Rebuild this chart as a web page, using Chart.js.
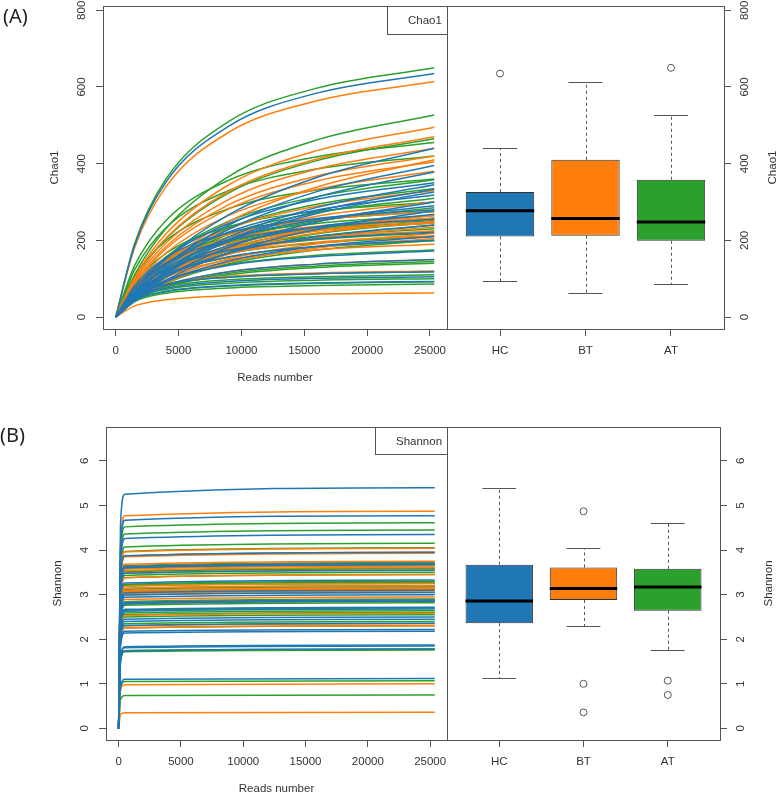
<!DOCTYPE html>
<html>
<head>
<meta charset="utf-8">
<title>Chao1 and Shannon rarefaction curves</title>
<script src="https://cdn.jsdelivr.net/npm/chart.js@4.4.1/dist/chart.umd.min.js"></script>
<style>
  body { margin: 0; background: #fff; }
  #wrap { position: relative; width: 778px; height: 794px; }
  #wrap canvas { position: absolute; left: 0; top: 0; }
</style>
</head>
<body>
<div id="wrap">
  <canvas id="chaoCurves" width="778" height="794"></canvas>
  <canvas id="chaoBox" width="778" height="794"></canvas>
  <canvas id="shannonCurves" width="778" height="794"></canvas>
  <canvas id="shannonBox" width="778" height="794"></canvas>
</div>
<script>
const groups = ['HC', 'BT', 'AT'];
const groupColors = ['#1f77b4', '#ff7f0e', '#2ca02c'];

const chaoReads = [0, 1500, 4000, 9000, 16000, 25340];
const shannonReads = [0, 150, 500, 25370];

// Chao1 curves, one row per sample: values at chaoReads[1..]
const chaoHC = [
  [43, 67, 82, 89, 93], [49, 75, 93, 101, 105], [55, 85, 104, 113, 118],
  [44, 83, 118, 138, 150], [51, 95, 135, 158, 172], [59, 111, 157, 184, 200],
  [44, 92, 146, 184, 210], [65, 123, 174, 204, 222], [50, 105, 167, 210, 240],
  [75, 141, 200, 234, 255], [56, 118, 187, 235, 268], [42, 96, 168, 229, 277],
  [82, 155, 220, 257, 280], [60, 127, 202, 254, 290], [45, 104, 182, 248, 300],
  [66, 140, 222, 279, 318], [49, 112, 198, 270, 326], [50, 115, 202, 276, 333],
  [52, 119, 209, 286, 345], [73, 154, 244, 307, 350], [57, 130, 229, 313, 378],
  [59, 136, 240, 327, 395], [66, 152, 267, 364, 440], [187, 352, 498, 584, 635]
];
const chaoBT = [
  [29, 45, 56, 60, 63], [55, 86, 106, 115, 120], [44, 83, 118, 138, 150],
  [56, 105, 149, 175, 190], [43, 90, 143, 180, 205], [62, 117, 166, 195, 212],
  [45, 96, 152, 191, 218], [66, 125, 177, 207, 225], [49, 103, 164, 206, 235],
  [72, 136, 192, 225, 245], [52, 110, 174, 219, 250], [75, 141, 200, 234, 255],
  [53, 113, 179, 225, 257], [76, 143, 203, 237, 258], [55, 116, 185, 232, 265],
  [81, 152, 216, 253, 275], [62, 132, 209, 263, 300], [69, 145, 230, 289, 330],
  [79, 167, 265, 333, 380], [84, 178, 282, 355, 405], [62, 141, 249, 339, 410],
  [87, 184, 293, 368, 420], [92, 193, 307, 386, 440], [98, 206, 328, 412, 470],
  [103, 217, 345, 434, 495], [181, 340, 482, 564, 614]
];
const chaoAT = [
  [40, 62, 76, 82, 86], [43, 66, 81, 88, 92], [46, 72, 88, 96, 100],
  [51, 79, 97, 105, 110], [55, 85, 104, 113, 118], [41, 78, 110, 129, 140],
  [43, 80, 114, 133, 145], [51, 97, 137, 161, 175], [59, 110, 156, 183, 199],
  [42, 88, 139, 175, 200], [62, 116, 165, 193, 210], [65, 122, 173, 202, 220],
  [68, 127, 181, 211, 230], [50, 105, 167, 210, 240], [72, 136, 192, 225, 245],
  [73, 137, 195, 228, 248], [52, 109, 173, 217, 248], [74, 140, 198, 232, 252],
  [54, 113, 180, 226, 258], [78, 147, 208, 244, 265], [81, 152, 216, 253, 275],
  [59, 125, 199, 250, 285], [88, 166, 236, 276, 300], [64, 136, 216, 272, 310],
  [70, 147, 233, 294, 335], [74, 157, 250, 314, 358], [106, 199, 283, 331, 360],
  [123, 233, 330, 386, 420], [134, 252, 357, 418, 455], [97, 204, 324, 408, 465],
  [110, 231, 367, 462, 527], [191, 360, 510, 597, 650]
];

// Shannon curves: values at shannonReads[1..]
const shannonHC = [
  [0.95, 1.10, 1.12], [1.51, 1.74, 1.78], [1.57, 1.81, 1.85], [1.59, 1.83, 1.87],
  [1.85, 2.14, 2.18], [1.89, 2.18, 2.22], [2.01, 2.31, 2.36], [2.08, 2.40, 2.45],
  [2.13, 2.45, 2.50], [2.28, 2.63, 2.68], [2.31, 2.67, 2.72], [2.42, 2.79, 2.85],
  [2.45, 2.82, 2.88], [2.55, 2.94, 3.00], [2.59, 2.99, 3.05], [2.64, 3.04, 3.10],
  [2.83, 3.26, 3.33], [3.02, 3.48, 3.55], [3.12, 3.60, 3.67], [3.15, 3.63, 3.70],
  [3.36, 3.87, 3.95], [3.70, 4.26, 4.35], [4.05, 4.67, 4.77], [4.59, 5.25, 5.40]
];
const shannonBT = [
  [0.31, 0.35, 0.36], [0.85, 0.98, 1.00], [1.96, 2.25, 2.30], [2.00, 2.30, 2.35],
  [2.19, 2.53, 2.58], [2.42, 2.79, 2.85], [2.45, 2.82, 2.88], [2.51, 2.89, 2.95],
  [2.59, 2.99, 3.05], [2.62, 3.02, 3.08], [2.64, 3.04, 3.10], [2.65, 3.06, 3.12],
  [2.66, 3.07, 3.13], [2.68, 3.09, 3.15], [2.72, 3.14, 3.20], [2.76, 3.19, 3.25],
  [2.93, 3.38, 3.45], [3.02, 3.48, 3.55], [3.07, 3.54, 3.61], [3.10, 3.58, 3.65],
  [3.15, 3.63, 3.70], [3.19, 3.68, 3.75], [3.34, 3.85, 3.93], [3.36, 3.87, 3.95],
  [3.43, 3.96, 4.04], [4.14, 4.77, 4.87]
];
const shannonAT = [
  [0.64, 0.74, 0.75], [0.91, 1.05, 1.07], [1.50, 1.72, 1.76], [1.51, 1.74, 1.78],
  [1.96, 2.25, 2.30], [2.04, 2.35, 2.40], [2.17, 2.50, 2.55], [2.21, 2.55, 2.60],
  [2.24, 2.59, 2.64], [2.30, 2.65, 2.70], [2.40, 2.76, 2.82], [2.42, 2.79, 2.85],
  [2.45, 2.82, 2.88], [2.47, 2.84, 2.90], [2.64, 3.04, 3.10], [2.68, 3.09, 3.15],
  [2.70, 3.12, 3.18], [2.72, 3.14, 3.20], [2.76, 3.19, 3.25], [2.79, 3.21, 3.28],
  [2.81, 3.23, 3.30], [2.93, 3.38, 3.45], [2.98, 3.43, 3.50], [3.04, 3.51, 3.58],
  [3.06, 3.53, 3.60], [3.10, 3.58, 3.65], [3.13, 3.61, 3.68], [3.16, 3.65, 3.72],
  [3.44, 3.97, 4.05], [3.53, 4.07, 4.15], [3.78, 4.36, 4.45], [3.92, 4.52, 4.61]
];

// boxplot statistics per group (HC, BT, AT)
const chaoLow = [93, 63, 86];
const chaoQ1 = [210, 212, 199];
const chaoMedian = [277, 257, 248];
const chaoQ3 = [326, 410, 358];
const chaoHigh = [440, 614, 527];
const chaoOutliers = [[635], [], [650]];

const shannonLow = [1.12, 2.30, 1.76];
const shannonQ1 = [2.36, 2.88, 2.64];
const shannonMedian = [2.86, 3.14, 3.17];
const shannonQ3 = [3.67, 3.61, 3.58];
const shannonHigh = [5.40, 4.04, 4.61];
const shannonOutliers = [[], [4.87, 1.00, 0.36], [1.07, 0.75]];

// tick labels
const readsTicks = [0, 5000, 10000, 15000, 20000, 25000];
const chaoTicks = [0, 200, 400, 600, 800];
const shannonTicks = [0, 1, 2, 3, 4, 5, 6];
const groupTicks = [1, 2, 3];

const axisGrey = '#555';
const textColor = '#333';
const fontFamily = '"Liberation Sans", Arial, sans-serif';

function fixedTicks(values) {
    return function(scale) {
        scale.ticks = values.map(v => ({ value: v }));
    };
}

function xAxis(min, max, values, labels) {
    return {
        type: 'linear',
        min: min,
        max: max,
        offset: false,
        afterBuildTicks: fixedTicks(values),
        afterFit: s => { s.height = 30; },
        grid: { drawOnChartArea: false, offset: false, tickLength: 7, color: axisGrey },
        border: { color: axisGrey },
        ticks: {
            color: textColor,
            font: { family: fontFamily, size: 11.5 },
            padding: 8,
            maxRotation: 0,
            autoSkip: false,
            callback: labels ? (v => labels[v - 1]) : (v => String(v))
        }
    };
}

function yAxis(side, min, max, values) {
    return {
        type: 'linear',
        position: side,
        min: min,
        max: max,
        afterBuildTicks: fixedTicks(values),
        afterFit: s => { s.width = 30; },
        grid: { drawOnChartArea: false, tickLength: 7, color: axisGrey },
        border: { color: axisGrey },
        ticks: { display: false }
    };
}

function upright(ctx, text, x, y) {
    ctx.save();
    ctx.translate(x, y);
    ctx.rotate(-Math.PI / 2);
    ctx.fillText(text, 0, 0);
    ctx.restore();
}

// R style frame, rotated y labels, titles, legend box and panel letter
const rFrame = {
    id: 'rFrame',
    afterDraw(chart, args, o) {
        const ctx = chart.ctx;
        const a = chart.chartArea;
        const ys = chart.scales.y;
        ctx.save();
        ctx.strokeStyle = axisGrey;
        ctx.lineWidth = 1;
        ctx.strokeRect(a.left + 0.5, a.top + 0.5, a.right - a.left, a.bottom - a.top);

        ctx.fillStyle = textColor;
        ctx.font = '11.5px ' + fontFamily;
        ctx.textAlign = 'center';
        ctx.textBaseline = 'middle';
        const onLeft = ys.position === 'left';
        const edge = onLeft ? a.left : a.right;
        const dir = onLeft ? -1 : 1;
        ys.ticks.forEach((t, i) => upright(ctx, String(t.value), edge + dir * 21, ys.getPixelForTick(i)));
        upright(ctx, o.yTitle, edge + dir * 48.5, (a.top + a.bottom) / 2);

        if (o.xTitle) {
            ctx.fillText(o.xTitle, (a.left + a.right) / 2, a.bottom + 49);
        }
        if (o.legend) {
            const w = Math.round(ctx.measureText(o.legend).width + 26);
            ctx.fillStyle = '#fff';
            ctx.fillRect(a.right - w, a.top, w, o.legendHeight);
            ctx.strokeRect(a.right - w + 0.5, a.top + 0.5, w, o.legendHeight);
            ctx.fillStyle = textColor;
            ctx.textAlign = 'left';
            ctx.fillText(o.legend, a.right - w + 21, a.top + o.legendHeight / 2 + 1);
        }
        if (o.panel) {
            ctx.font = '20px "Noto Sans", sans-serif';
            ctx.fillStyle = '#222';
            ctx.textAlign = 'left';
            ctx.fillText(o.panel, o.panelX, o.panelY);
        }
        ctx.restore();
    }
};

// dashed whiskers, caps and thick medians on top of the floating bars
const boxParts = {
    id: 'boxParts',
    beforeDatasetsDraw(chart, args, o) {
        const ctx = chart.ctx;
        const ys = chart.scales.y;
        const bars = chart.getDatasetMeta(0).data;
        ctx.save();
        ctx.strokeStyle = axisGrey;
        ctx.lineWidth = 1;
        bars.forEach((bar, i) => {
            const x = Math.round(bar.x) + 0.5;
            const cap = bar.width / 4;
            [[o.q3[i], o.high[i]], [o.q1[i], o.low[i]]].forEach(pair => {
                const y0 = ys.getPixelForValue(pair[0]);
                const y1 = Math.round(ys.getPixelForValue(pair[1])) + 0.5;
                ctx.setLineDash([3, 3]);
                ctx.beginPath();
                ctx.moveTo(x, y0);
                ctx.lineTo(x, y1);
                ctx.stroke();
                ctx.setLineDash([]);
                ctx.beginPath();
                ctx.moveTo(bar.x - cap, y1);
                ctx.lineTo(bar.x + cap, y1);
                ctx.stroke();
            });
        });
        ctx.restore();
    },
    afterDatasetsDraw(chart, args, o) {
        const ctx = chart.ctx;
        const ys = chart.scales.y;
        const bars = chart.getDatasetMeta(0).data;
        ctx.save();
        ctx.strokeStyle = '#000';
        ctx.lineWidth = 3;
        bars.forEach((bar, i) => {
            const y = ys.getPixelForValue(o.median[i]);
            ctx.beginPath();
            ctx.moveTo(bar.x - bar.width / 2, y);
            ctx.lineTo(bar.x + bar.width / 2, y);
            ctx.stroke();
        });
        ctx.restore();
    }
};

function curveSets(reads, rows, color) {
    return rows.map(r => ({
        data: reads.map((x, i) => ({ x: x, y: i === 0 ? 0 : r[i - 1] })),
        borderColor: color,
        borderWidth: 1.5,
        pointRadius: 0,
        fill: false,
        cubicInterpolationMode: 'monotone'
    }));
}

function curveChart(id, reads, rowsByGroup, yMin, yMax, yTicks, pad, frame) {
    let datasets = [];
    rowsByGroup.forEach((rows, g) => {
        datasets = datasets.concat(curveSets(reads, rows, groupColors[g]));
    });
    new Chart(document.getElementById(id), {
        type: 'line',
        data: { datasets: datasets },
        options: {
            responsive: false,
            animation: false,
            events: [],
            layout: { padding: pad },
            plugins: { legend: { display: false }, tooltip: { enabled: false }, rFrame: frame },
            scales: {
                x: xAxis(-1014, 26354, readsTicks),
                y: yAxis('left', yMin, yMax, yTicks)
            }
        },
        plugins: [rFrame]
    });
}

function boxChart(id, low, q1, median, q3, high, outliers, yMin, yMax, yTicks, pad, frame) {
    const outlierPoints = [];
    outliers.forEach((list, g) => list.forEach(v => outlierPoints.push({ x: g + 1, y: v })));
    new Chart(document.getElementById(id), {
        type: 'bar',
        data: {
            datasets: [{
                data: groups.map((g, i) => ({ x: i + 1, y: [q1[i], q3[i]] })),
                backgroundColor: groupColors,
                borderColor: '#333',
                borderWidth: 1,
                borderSkipped: false,
                barPercentage: 0.8,
                categoryPercentage: 1
            }, {
                type: 'scatter',
                data: outlierPoints,
                pointRadius: 3.5,
                pointStyle: 'circle',
                borderColor: axisGrey,
                borderWidth: 1,
                backgroundColor: 'rgba(0,0,0,0)'
            }]
        },
        options: {
            responsive: false,
            animation: false,
            events: [],
            layout: { padding: pad },
            plugins: {
                legend: { display: false },
                tooltip: { enabled: false },
                rFrame: frame,
                boxParts: { low: low, q1: q1, median: median, q3: q3, high: high }
            },
            scales: {
                x: xAxis(0.38, 3.62, groupTicks, groups),
                y: yAxis('right', yMin, yMax, yTicks)
            }
        },
        plugins: [boxParts, rFrame]
    });
}

document.addEventListener('DOMContentLoaded', function() {
    // (A) Chao1
    curveChart('chaoCurves', chaoReads, [chaoHC, chaoBT, chaoAT], -31.2, 811.2, chaoTicks,
        { left: 73, top: 6, right: 331, bottom: 435 },
        { yTitle: 'Chao1', xTitle: 'Reads number', legend: 'Chao1', legendHeight: 28,
          panel: '(A)', panelX: 3, panelY: 17 });
    boxChart('chaoBox', chaoLow, chaoQ1, chaoMedian, chaoQ3, chaoHigh, chaoOutliers,
        -31.2, 811.2, chaoTicks,
        { left: 447, top: 6, right: 24, bottom: 435 },
        { yTitle: 'Chao1' });

    // (B) Shannon
    curveChart('shannonCurves', shannonReads, [shannonHC, shannonBT, shannonAT], -0.26, 6.76, shannonTicks,
        { left: 76, top: 427, right: 331, bottom: 24 },
        { yTitle: 'Shannon', xTitle: 'Reads number', legend: 'Shannon', legendHeight: 27,
          panel: '(B)', panelX: 0, panelY: 436 });
    boxChart('shannonBox', shannonLow, shannonQ1, shannonMedian, shannonQ3, shannonHigh, shannonOutliers,
        -0.26, 6.76, shannonTicks,
        { left: 447, top: 427, right: 28, bottom: 24 },
        { yTitle: 'Shannon' });
});
</script>
</body>
</html>
